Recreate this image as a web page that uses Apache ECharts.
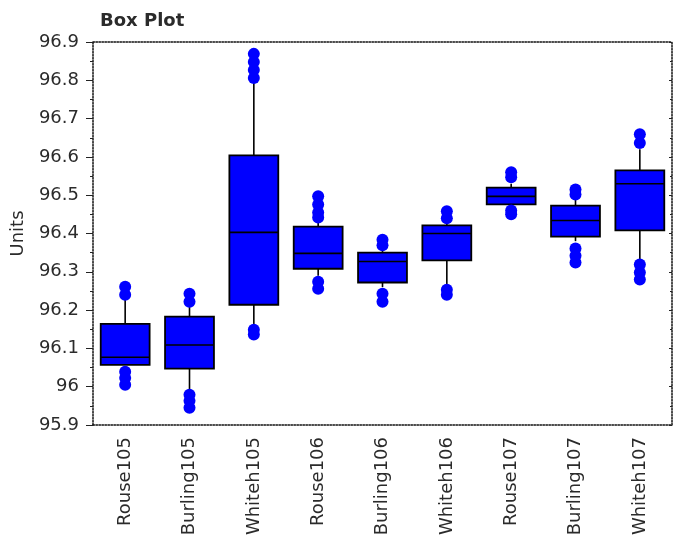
<!DOCTYPE html>
<html>
<head>
<meta charset="utf-8">
<script src="https://cdn.jsdelivr.net/npm/echarts@6/dist/echarts.min.js"></script>
<style>
  html, body { margin: 0; padding: 0; background: #fff; }
  #main { width: 675px; height: 541px; }
</style>
</head>
<body>
<div id="main"></div>
<script>
var categories = ["Rouse105", "Burling105", "Whiteh105", "Rouse106", "Burling106",
  "Whiteh106", "Rouse107", "Burling107", "Whiteh107"];

// box statistics
var lowWhisker  = [96.06, 95.99, 96.16, 96.29, 96.26, 96.26, 96.47, 96.38, 96.33];
var q1          = [96.057, 96.047, 96.214, 96.308, 96.272, 96.33, 96.476, 96.392, 96.408];
var median      = [96.077, 96.109, 96.403, 96.348, 96.327, 96.40, 96.497, 96.434, 96.53];
var q3          = [96.164, 96.183, 96.604, 96.418, 96.35, 96.421, 96.52, 96.473, 96.565];
var highWhisker = [96.23, 96.21, 96.80, 96.43, 96.36, 96.43, 96.53, 96.49, 96.62];

// outlier points: [category index, value]
var outliers = [
  [0, 96.261], [0, 96.24], [0, 96.039], [0, 96.023], [0, 96.005],
  [1, 96.243], [1, 96.222], [1, 95.979], [1, 95.963], [1, 95.945],
  [2, 96.869], [2, 96.848], [2, 96.827], [2, 96.806], [2, 96.149], [2, 96.136],
  [3, 96.497], [3, 96.476], [3, 96.455], [3, 96.442], [3, 96.274], [3, 96.256],
  [4, 96.384], [4, 96.369], [4, 96.243], [4, 96.222],
  [5, 96.458], [5, 96.44], [5, 96.253], [5, 96.24],
  [6, 96.56], [6, 96.547], [6, 96.46], [6, 96.45],
  [7, 96.515], [7, 96.502], [7, 96.361], [7, 96.342], [7, 96.324],
  [8, 96.659], [8, 96.636], [8, 96.319], [8, 96.298], [8, 96.28]
];

var boxData = categories.map(function (c, i) {
  return [i, lowWhisker[i], q1[i], median[i], q3[i], highWhisker[i]];
});

var chart = echarts.init(document.getElementById("main"));

var axisText = { color: "#2b2b2b", fontFamily: "DejaVu Sans", fontSize: 18 };
var dotted = { color: "#111", type: "dotted", width: 1.5 };

function renderBox(params, api) {
  var x = api.value(0);
  var low = api.coord([x, api.value(1)]);
  var b = api.coord([x, api.value(2)]);
  var m = api.coord([x, api.value(3)]);
  var t = api.coord([x, api.value(4)]);
  var high = api.coord([x, api.value(5)]);
  var half = api.size([1, 0])[0] * 0.38;
  var line = { stroke: "#000", lineWidth: 1.6 };
  return {
    type: "group",
    children: [
      { type: "line", shape: { x1: low[0], y1: low[1], x2: b[0], y2: b[1] }, style: line },
      { type: "line", shape: { x1: t[0], y1: t[1], x2: high[0], y2: high[1] }, style: line },
      { type: "rect", shape: { x: b[0] - half, y: t[1], width: half * 2, height: b[1] - t[1] },
        style: { fill: "#0000ff", stroke: "#000", lineWidth: 1.8 } },
      { type: "line", shape: { x1: m[0] - half, y1: m[1], x2: m[0] + half, y2: m[1] }, style: line }
    ]
  };
}

chart.setOption({
  animation: false,
  title: {
    text: "Box Plot",
    left: 95,
    top: 7,
    textStyle: { fontFamily: "DejaVu Sans", fontSize: 18, fontWeight: "bold", color: "#2b2b2b" }
  },
  grid: { left: 93, right: 3, top: 42, bottom: 116 },
  xAxis: [
    {
      type: "category",
      data: categories,
      position: "bottom",
      boundaryGap: true,
      axisLine: { lineStyle: dotted },
      axisTick: { alignWithLabel: true, length: 4, lineStyle: { color: "#222" } },
      axisLabel: Object.assign({ rotate: 90, margin: 12, interval: 0 }, axisText),
      splitLine: { show: false }
    },
    {
      type: "category",
      data: categories,
      position: "top",
      axisLine: { lineStyle: dotted },
      axisTick: { alignWithLabel: true, length: 3, lineStyle: { color: "#222" } },
      axisLabel: { show: false },
      splitLine: { show: false }
    }
  ],
  yAxis: [
    {
      type: "value",
      name: "Units",
      nameLocation: "middle",
      nameGap: 66,
      nameTextStyle: axisText,
      min: 95.9,
      max: 96.9,
      interval: 0.1,
      axisLine: { show: true, lineStyle: dotted },
      axisTick: { show: true, length: 7, lineStyle: { color: "#222" } },
      minorTick: { show: true, splitNumber: 2, length: 3, lineStyle: { color: "#222" } },
      axisLabel: Object.assign({
        margin: 14,
        formatter: function (v) { return String(Math.round(v * 10) / 10); }
      }, axisText),
      splitLine: { show: false }
    },
    {
      type: "value",
      position: "right",
      min: 95.9,
      max: 96.9,
      interval: 0.1,
      axisLine: { show: true, lineStyle: dotted },
      axisTick: { show: true, inside: true, length: 3, lineStyle: { color: "#222" } },
      minorTick: { show: true, splitNumber: 2, length: 2, lineStyle: { color: "#222" } },
      axisLabel: { show: false },
      splitLine: { show: false }
    }
  ],
  series: [
    {
      type: "custom",
      renderItem: renderBox,
      encode: { x: 0, y: [1, 2, 3, 4, 5] },
      data: boxData,
      z: 2
    },
    {
      type: "scatter",
      data: outliers,
      symbol: "circle",
      symbolSize: 12,
      itemStyle: { color: "#0000ff", opacity: 1 },
      z: 3
    }
  ]
});
</script>
</body>
</html>
